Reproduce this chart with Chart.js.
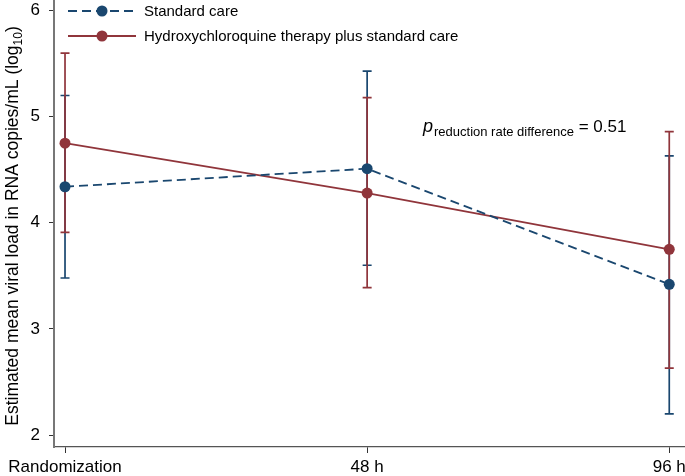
<!DOCTYPE html>
<html>
<head>
<meta charset="utf-8">
<script src="https://cdn.jsdelivr.net/npm/chart.js@4"></script>
<style>
html,body{margin:0;padding:0;background:#fff;}
canvas{display:block;}
</style>
</head>
<body>
<canvas id="c" width="685" height="476"></canvas>
<script>
// ---- data ----
const categories = ['Randomization', '48 h', '96 h'];
const hours = [0, 48, 96];
const standardMean  = [4.34, 4.51, 3.42];
const standardLower = [3.48, 3.60, 2.20];
const standardUpper = [5.20, 5.43, 4.63];
const hcqMean  = [4.75, 4.28, 3.75];
const hcqLower = [3.91, 3.39, 2.63];
const hcqUpper = [5.60, 5.18, 4.86];
const yTicks = [2, 3, 4, 5, 6];
const seriesLabels = ['Standard care', 'Hydroxychloroquine therapy plus standard care'];
const annotationText = { p: 'p', sub: 'reduction rate difference', rest: ' = 0.51' };
const yTitle = { main: 'Estimated mean viral load in RNA copies/mL (log', sub: '10', end: ')' };

const BLUE = '#1a476f';
const RED = '#90353b';
const FONT = '"Liberation Sans", Arial, Helvetica, sans-serif';

const errorBars = [
  { color: BLUE, lower: standardLower, upper: standardUpper },
  { color: RED, lower: hcqLower, upper: hcqUpper }
];

const errorBarPlugin = {
  id: 'errorBars',
  beforeDatasetsDraw(chart) {
    const { ctx, scales: { x, y } } = chart;
    ctx.save();
    ctx.lineWidth = 1.7;
    errorBars.forEach(eb => {
      ctx.strokeStyle = eb.color;
      hours.forEach((h, i) => {
        const px = x.getPixelForValue(h);
        const yt = y.getPixelForValue(eb.upper[i]);
        const yb = y.getPixelForValue(eb.lower[i]);
        ctx.beginPath();
        ctx.moveTo(px, yt); ctx.lineTo(px, yb);
        ctx.moveTo(px - 4.5, yt); ctx.lineTo(px + 4.5, yt);
        ctx.moveTo(px - 4.5, yb); ctx.lineTo(px + 4.5, yb);
        ctx.stroke();
      });
    });
    ctx.restore();
  }
};

const decorPlugin = {
  id: 'decor',
  afterDraw(chart) {
    const { ctx } = chart;
    ctx.save();
    // legend
    const rows = [11, 36];
    chart.data.datasets.forEach((ds, i) => {
      const yy = rows[i];
      ctx.strokeStyle = ds.borderColor;
      ctx.lineWidth = 1.8;
      ctx.setLineDash(ds.borderDash || []);
      ctx.beginPath();
      ctx.moveTo(68, yy); ctx.lineTo(136, yy);
      ctx.stroke();
      ctx.setLineDash([]);
      ctx.fillStyle = ds.backgroundColor;
      ctx.beginPath();
      ctx.arc(102, yy, 5.5, 0, Math.PI * 2);
      ctx.fill();
      ctx.fillStyle = '#000';
      ctx.font = '15px ' + FONT;
      ctx.textBaseline = 'middle';
      ctx.textAlign = 'left';
      ctx.fillText(ds.label, 144, yy + 1);
    });
    // annotation
    ctx.textBaseline = 'alphabetic';
    let ax = 423, ay = 132;
    ctx.font = 'italic 18px ' + FONT;
    ctx.fillText(annotationText.p, ax, ay);
    ax += ctx.measureText(annotationText.p).width + 1;
    ctx.font = '13px ' + FONT;
    ctx.fillText(annotationText.sub, ax, ay + 4);
    ax += ctx.measureText(annotationText.sub).width;
    ctx.font = '17px ' + FONT;
    ctx.fillText(annotationText.rest, ax, ay);
    // y title
    ctx.translate(18, 0);
    ctx.rotate(-Math.PI / 2);
    ctx.font = '17.5px ' + FONT;
    const w1 = ctx.measureText(yTitle.main).width;
    ctx.font = '12px ' + FONT;
    const w2 = ctx.measureText(yTitle.sub).width;
    ctx.font = '17.5px ' + FONT;
    const w3 = ctx.measureText(yTitle.end).width;
    const total = w1 + w2 + w3;
    let tx = -(226 + total / 2);
    ctx.fillText(yTitle.main, tx, 0);
    tx += w1;
    ctx.font = '12px ' + FONT;
    ctx.fillText(yTitle.sub, tx, 4);
    tx += w2;
    ctx.font = '17.5px ' + FONT;
    ctx.fillText(yTitle.end, tx, 0);
    ctx.restore();
  }
};

new Chart(document.getElementById('c'), {
  type: 'line',
  data: {
    datasets: [
      {
        label: seriesLabels[0],
        data: hours.map((h, i) => ({ x: h, y: standardMean[i] })),
        borderColor: BLUE,
        backgroundColor: BLUE,
        borderWidth: 1.8,
        borderDash: [9, 5],
        pointRadius: 5.5,
        pointBorderWidth: 0,
        pointBackgroundColor: BLUE,
        tension: 0,
        order: 1
      },
      {
        label: seriesLabels[1],
        data: hours.map((h, i) => ({ x: h, y: hcqMean[i] })),
        borderColor: RED,
        backgroundColor: RED,
        borderWidth: 1.8,
        pointRadius: 5.5,
        pointBorderWidth: 0,
        pointBackgroundColor: RED,
        tension: 0,
        order: 2
      }
    ]
  },
  options: {
    responsive: false,
    animation: false,
    layout: { padding: 0, autoPadding: false },
    plugins: { legend: { display: false }, tooltip: { enabled: false } },
    scales: {
      x: {
        type: 'linear',
        min: -1.75,
        max: 98.5,
        afterBuildTicks(s) { s.ticks = hours.map(v => ({ value: v })); },
        afterFit(s) { s.height = 29; s.paddingLeft = 0; s.paddingRight = 0; },
        ticks: {
          autoSkip: false,
          maxRotation: 0,
          padding: 4,
          color: '#000',
          font: { family: FONT, size: 17 },
          callback(v) { const i = hours.indexOf(v); return i >= 0 ? categories[i] : ''; }
        },
        grid: { drawOnChartArea: false, drawTicks: true, tickLength: 6, tickColor: '#333', lineWidth: 1 },
        border: { color: '#555', width: 1.3 }
      },
      y: {
        min: 1.887,
        max: 6.10,
        afterBuildTicks(s) { s.ticks = yTicks.map(v => ({ value: v })); },
        afterFit(s) { s.width = 54; s.paddingTop = 0; s.paddingBottom = 0; },
        ticks: {
          padding: 9,
          color: '#000',
          font: { family: FONT, size: 17 },
          callback(v) { return String(v); }
        },
        grid: { drawOnChartArea: false, drawTicks: true, tickLength: 5, tickColor: '#333', lineWidth: 1 },
        border: { color: '#777', width: 2 }
      }
    }
  },
  plugins: [errorBarPlugin, decorPlugin]
});
</script>
</body>
</html>
